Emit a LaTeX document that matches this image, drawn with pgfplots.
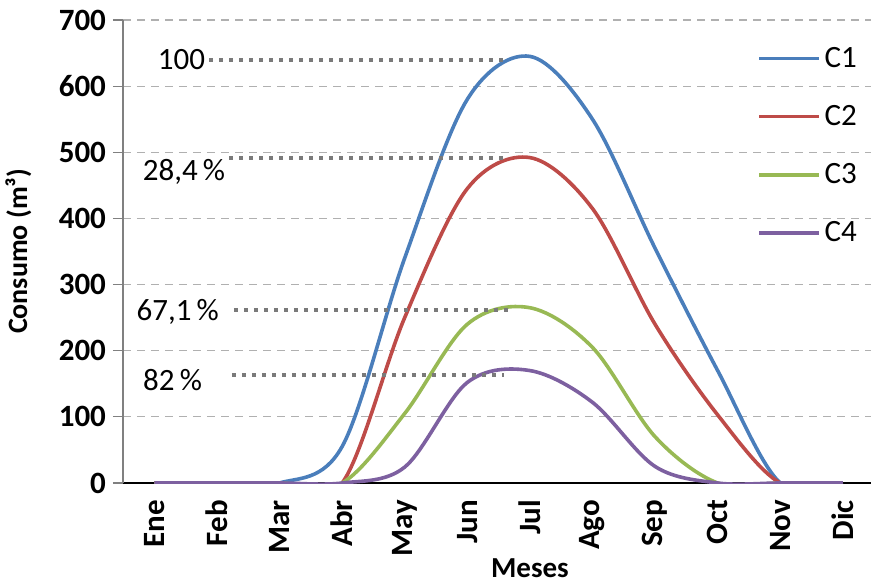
\documentclass[border=0pt]{standalone}
\usepackage{pgfplots}
\pgfplotsset{compat=1.18}
\usepackage{fontspec}
\setmainfont{Carlito}

\definecolor{cOne}{HTML}{4A7EBB}
\definecolor{cTwo}{HTML}{BE4B48}
\definecolor{cThree}{HTML}{98B954}
\definecolor{cFour}{HTML}{7D60A0}
\definecolor{gridgray}{HTML}{B0B0B0}
\definecolor{dotgray}{HTML}{7A7A7A}

\newcommand{\bigfont}{\fontsize{15.5}{18}\selectfont}

\begin{document}
\begin{tikzpicture}
\begin{axis}[
	scale only axis,
	width=374pt, height=231.5pt,
	xmin=-0.5, xmax=11.45,
	ymin=0, ymax=700,
	axis lines*=left,
	x axis line style={black, line width=1.2pt},
	y axis line style={gray, line width=0.6pt},
	ytick={0,100,...,700},
	xtick={0,...,11},
	xticklabels={Ene,Feb,Mar,Abr,May,Jun,Jul,Ago,Sep,Oct,Nov,Dic},
	major x tick style={draw=none},
	extra x ticks={-0.5,0.5,...,10.5},
	extra x tick labels={},
	extra x tick style={major tick length=4pt, tick style={black, line width=1.2pt}, grid=none},
	tick align=outside,
	major y tick style={gray, line width=0.6pt},
	major tick length=5pt,
	ymajorgrids,
	grid style={gridgray, dashed, line width=0.6pt, dash pattern=on 4pt off 3pt},
	/pgf/number format/assume math mode=true,
	y tick label style={font=\bigfont\bfseries},
	x tick label style={font=\bigfont\bfseries, rotate=90, anchor=east},
	xlabel={Meses},
	ylabel={Consumo (m³)},
	x label style={font=\fontsize{14.5}{16}\selectfont\bfseries, at={(axis description cs:0.544,-0.184)}, anchor=center},
	y label style={font=\fontsize{14}{16}\selectfont\bfseries, at={(axis description cs:-0.14,0.5)}, anchor=center},
	legend style={draw=none, fill=none, at={(0.995,0.96)}, anchor=north east, font=\bigfont, row sep=13.5pt},
	legend cell align=left,
	legend image code/.code={\draw[#1] (0cm,0cm) -- (1.05cm,0cm);},
	every axis plot/.append style={line width=1.8pt, smooth, tension=0.55},
]
\addplot[cOne] coordinates {
	(0,0) (1,0) (2,0) (3,55) (4,340) (5,580) (6,645) (7,550) (8,355) (9,170) (10,0) (11,0)
};
\addplot[cTwo] coordinates {
	(0,0) (1,0) (2,0) (3,0) (4,250) (5,445) (6,492) (7,415) (8,240) (9,103) (10,0) (11,0)
};
\addplot[cThree] coordinates {
	(0,0) (1,0) (2,0) (3,0) (4,105) (5,240) (6,265) (7,205) (8,70) (9,0) (10,0) (11,0)
};
\addplot[cFour] coordinates {
	(0,0) (1,0) (2,0) (3,0) (4,24) (5,152) (6,170) (7,122) (8,25) (9,0) (10,0) (11,0)
};
\legend{C1,C2,C3,C4}

% dotted guide lines to the peaks
\addplot[forget plot, dotgray, line width=2pt, dash pattern=on 2pt off 3pt, sharp plot] coordinates {(0.88,640) (5.62,640)};
\addplot[forget plot, dotgray, line width=2pt, dash pattern=on 2pt off 3pt, sharp plot] coordinates {(1.2,491) (5.58,491)};
\addplot[forget plot, dotgray, line width=2pt, dash pattern=on 2pt off 3pt, sharp plot] coordinates {(1.27,262) (5.66,262)};
\addplot[forget plot, dotgray, line width=2pt, dash pattern=on 2pt off 3pt, sharp plot] coordinates {(1.24,163) (5.58,163)};

\node[anchor=east, font=\bigfont, inner sep=1pt] at (axis cs:0.85,640) {100};
\node[anchor=east, font=\bigfont, inner sep=1pt] at (axis cs:1.17,470) {28,4\,\%};
\node[anchor=east, font=\bigfont, inner sep=1pt] at (axis cs:1.07,259) {67,1\,\%};
\node[anchor=east, font=\bigfont, inner sep=1pt] at (axis cs:0.8,156) {82\,\%};
\end{axis}
\pgfresetboundingbox
\useasboundingbox (-61.5pt,-50pt) rectangle (374pt,241.5pt);
\end{tikzpicture}
\end{document}
